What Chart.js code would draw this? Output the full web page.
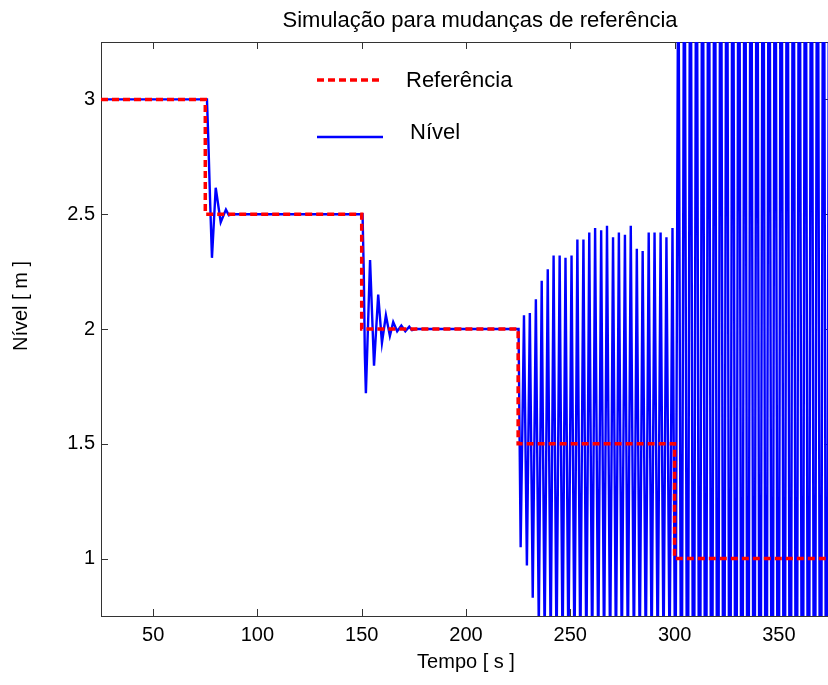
<!DOCTYPE html>
<html>
<head>
<meta charset="utf-8">
<title>Simulação para mudanças de referência</title>
<script src="https://cdn.jsdelivr.net/npm/chart.js@4.4.1/dist/chart.umd.min.js"></script>
<style>
  html, body { margin: 0; padding: 0; background: #fff; overflow: hidden; }
  #wrap { width: 832px; height: 685px; }
</style>
</head>
<body>
<div id="wrap"><canvas id="chart" width="832" height="685"></canvas></div>
<script>

// =====================================================
// DATA
// =====================================================

const titleText = "Simulação para mudanças de referência";
const xTitle = "Tempo [ s ]";
const yTitle = "Nível [ m ]";
const seriesNames = ["Referência", "Nível"];

const xTicks = [50, 100, 150, 200, 250, 300, 350];
const yTicks = [1, 1.5, 2, 2.5, 3];

// reference (steps)
const refTime = [25, 75, 75, 150, 150, 225, 225, 300, 300, 375];
const refLevel = [3, 3, 2.5, 2.5, 2, 2, 1.5, 1.5, 1, 1];

// level, 25 - 150 s
const levelTimeA = [25, 75, 75.8, 76.4, 77.3, 78.2, 80.0, 82.4, 84.9, 86.3, 88, 150.4];
const levelValueA = [3, 3, 3.0, 2.84, 2.56, 2.31, 2.615, 2.465, 2.52, 2.495, 2.5, 2.5];

// level, 150 - 225 s
const levelTimeB = [151.0, 151.5, 152.0, 154.0, 155.9, 157.9, 159.7, 161.6, 163.5,
  165.1, 167.0, 169.0, 170.9, 172.8, 174.1, 176, 225.2];
const levelValueB = [2.24, 1.89, 1.72, 2.30, 1.84, 2.15, 1.94, 2.06, 1.97,
  2.03, 1.99, 2.015, 1.99, 2.01, 1.995, 2.0, 2.0];

// level, 225 - 300 s (growing oscillation)
const levelTimeC = [226.2, 227.8, 229.2, 230.6, 232.0, 233.5, 234.9, 236.3, 237.7, 239.2,
  240.6, 242.0, 243.4, 244.9, 246.3, 247.7, 249.1, 250.6, 252.0, 253.4,
  254.8, 256.3, 257.7, 259.1, 260.5, 261.9, 263.4, 264.8, 266.2, 267.6,
  269.1, 270.5, 271.9, 273.3, 274.7, 276.2, 277.6, 279.0, 280.5, 281.9,
  283.3, 284.7, 286.2, 287.6, 289.0, 290.4, 291.9, 293.3, 294.7, 296.1,
  297.6, 299.0];
const levelValueC = [1.05, 2.06, 0.97, 2.07, 0.83, 2.13, 0.70, 2.21, 0.64, 2.26,
  0.60, 2.32, 0.57, 2.32, 0.56, 2.31, 0.56, 2.32, 0.55, 2.39,
  0.55, 2.39, 0.54, 2.42, 0.54, 2.44, 0.54, 2.43, 0.54, 2.45,
  0.55, 2.40, 0.55, 2.42, 0.55, 2.41, 0.54, 2.45, 0.56, 2.35,
  0.56, 2.34, 0.55, 2.42, 0.55, 2.42, 0.55, 2.42, 0.55, 2.40,
  0.55, 2.44];

// level, 300 - 375 s (unstable)
const levelTimeD = [300.4, 301.8, 303.3, 304.7, 306.2, 307.6, 309.1, 310.5, 312.0, 313.4,
  314.9, 316.3, 317.8, 319.2, 320.7, 322.1, 323.6, 325.0, 326.5, 327.9,
  329.4, 330.8, 332.3, 333.7, 335.2, 336.6, 338.1, 339.5, 341.0, 342.4,
  343.9, 345.3, 346.8, 348.2, 349.7, 351.1, 352.6, 354.0, 355.5, 356.9,
  358.4, 359.8, 361.3, 362.7, 364.2, 365.6, 367.1, 368.5, 370.0, 371.4,
  372.9, 374.3, 375.0];
const levelValueD = [0.2, 3.9, -0.3, 4.3, -0.6, 4.5, -0.8, 4.6, -0.9, 4.7,
  -1.0, 4.8, -1.0, 4.8, -1.1, 4.9, -1.1, 4.9, -1.1, 4.9,
  -1.2, 5.0, -1.2, 5.0, -1.2, 5.0, -1.2, 5.0, -1.2, 5.0,
  -1.2, 5.0, -1.2, 5.0, -1.2, 5.0, -1.2, 5.0, -1.2, 5.0,
  -1.2, 5.0, -1.2, 5.0, -1.2, 5.0, -1.2, 5.0, -1.2, 5.0,
  -1.2, 5.0, 1.9];

// =====================================================
// HELPERS
// =====================================================

const FONT = "'Liberation Sans', Arial, Helvetica, sans-serif";
const RED = "#ff0000";
const BLUE = "#0000ff";

function toPoints(xs, ys) {
  return xs.map((x, i) => ({ x, y: ys[i] }));
}

const levelTime = [].concat(levelTimeA, levelTimeB, levelTimeC, levelTimeD);
const levelValue = [].concat(levelValueA, levelValueB, levelValueC, levelValueD);

// =====================================================
// PLUGINS (box, inward ticks, title, legend)
// =====================================================

const matlabFrame = {
  id: "matlabFrame",
  beforeDatasetsDraw(chart) {
    const { ctx, chartArea: a, scales } = chart;
    ctx.save();
    ctx.strokeStyle = "#333";
    ctx.lineWidth = 1;
    ctx.strokeRect(a.left + 0.5, a.top + 0.5, a.right - a.left - 1, a.bottom - a.top);
    ctx.beginPath();
    xTicks.forEach(v => {
      const px = Math.round(scales.x.getPixelForValue(v)) + 0.5;
      ctx.moveTo(px, a.bottom); ctx.lineTo(px, a.bottom - 7);
      ctx.moveTo(px, a.top); ctx.lineTo(px, a.top + 7);
    });
    yTicks.forEach(v => {
      const py = Math.round(scales.y.getPixelForValue(v)) + 0.5;
      ctx.moveTo(a.left, py); ctx.lineTo(a.left + 7, py);
      ctx.moveTo(a.right, py); ctx.lineTo(a.right - 7, py);
    });
    ctx.stroke();
    ctx.restore();
  },
  afterDraw(chart) {
    const { ctx } = chart;
    ctx.save();
    ctx.fillStyle = "#000";
    ctx.textBaseline = "middle";

    // title
    ctx.font = "22px " + FONT;
    ctx.textAlign = "center";
    ctx.fillText(titleText, 480, 21);

    // y title
    ctx.save();
    ctx.font = "20px " + FONT;
    ctx.translate(21, 306);
    ctx.rotate(-Math.PI / 2);
    ctx.fillText(yTitle, 0, 0);
    ctx.restore();

    // legend
    ctx.font = "22px " + FONT;
    ctx.textAlign = "left";
    ctx.lineWidth = 3.5;
    ctx.strokeStyle = RED;
    ctx.setLineDash([7, 4]);
    ctx.beginPath();
    ctx.moveTo(317, 80); ctx.lineTo(381, 80);
    ctx.stroke();
    ctx.fillText(seriesNames[0], 406, 81);

    ctx.setLineDash([]);
    ctx.lineWidth = 2.5;
    ctx.strokeStyle = BLUE;
    ctx.beginPath();
    ctx.moveTo(317, 137); ctx.lineTo(383, 137);
    ctx.stroke();
    ctx.fillText(seriesNames[1], 410, 133);
    ctx.restore();
  }
};

// =====================================================
// CHART
// =====================================================

new Chart(document.getElementById("chart"), {
  type: "line",
  data: {
    datasets: [
      {
        label: seriesNames[0],
        data: toPoints(refTime, refLevel),
        borderColor: RED,
        borderWidth: 3.5,
        borderDash: [7, 4],
        pointRadius: 0,
        tension: 0,
        clip: 0
      },
      {
        label: seriesNames[1],
        data: toPoints(levelTime, levelValue),
        borderColor: BLUE,
        borderWidth: 2.4,
        pointRadius: 0,
        tension: 0,
        clip: 0
      }
    ]
  },
  options: {
    responsive: false,
    animation: false,
    events: [],
    layout: { padding: { top: 42, right: 1, left: 0, bottom: 0 } },
    plugins: {
      legend: { display: false },
      tooltip: { enabled: false },
      title: { display: false }
    },
    scales: {
      x: {
        type: "linear",
        min: 25,
        max: 375,
        afterBuildTicks: s => { s.ticks = xTicks.map(v => ({ value: v })); },
        afterFit: s => { s.height = 69; },
        grid: { display: false, drawTicks: false },
        border: { display: false },
        ticks: {
          color: "#000",
          padding: 7,
          maxRotation: 0,
          callback: v => String(v),
          font: { family: FONT, size: 20 }
        },
        title: {
          display: true,
          text: xTitle,
          color: "#000",
          padding: { top: 0, bottom: 11 },
          font: { family: FONT, size: 20 }
        }
      },
      y: {
        type: "linear",
        min: 0.75,
        max: 3.25,
        afterBuildTicks: s => { s.ticks = yTicks.map(v => ({ value: v })); },
        afterFit: s => { s.width = 101; },
        grid: { display: false, drawTicks: false },
        border: { display: false },
        ticks: {
          color: "#000",
          padding: 6,
          callback: v => String(v),
          font: { family: FONT, size: 20 }
        }
      }
    }
  },
  plugins: [matlabFrame]
});
</script>
</body>
</html>
